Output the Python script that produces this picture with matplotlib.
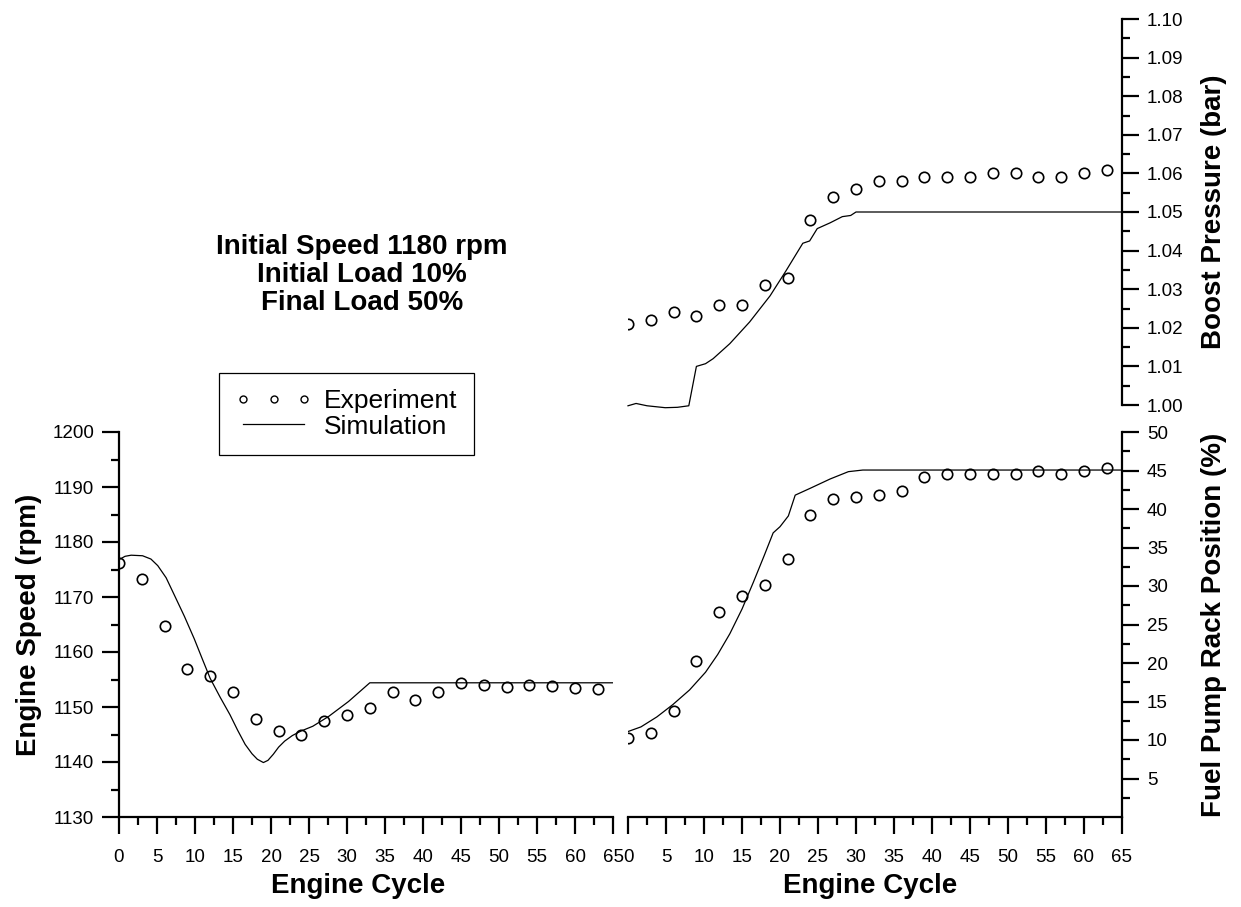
import matplotlib
matplotlib.use("Agg")
import matplotlib.pyplot as plt
from matplotlib.ticker import MultipleLocator, FormatStrFormatter, FixedLocator
from matplotlib.lines import Line2D

plt.rcParams['font.family'] = ['Liberation Sans', 'DejaVu Sans']

# Measured points (every 3 engine cycles)
cycle_exp = [0, 3, 6, 9, 12, 15, 18, 21, 24, 27, 30, 33, 36, 39, 42, 45, 48, 51, 54, 57, 60, 63]
speed_exp = [1176.1, 1173.3, 1164.8, 1157.0, 1155.7, 1152.7, 1147.9, 1145.6, 1144.9, 1147.5,
             1148.6, 1149.9, 1152.7, 1151.3, 1152.7, 1154.3, 1154.0, 1153.7, 1154.0, 1153.9,
             1153.4, 1153.3]
rack_exp = [10.3, 10.9, 13.8, 20.2, 26.6, 28.7, 30.1, 33.5, 39.2, 41.3, 41.5, 41.8, 42.3,
            44.1, 44.6, 44.6, 44.5, 44.5, 44.9, 44.5, 45.0, 45.3]
boost_exp = [1.021, 1.022, 1.024, 1.023, 1.026, 1.026, 1.031, 1.033, 1.048, 1.054, 1.056,
             1.058, 1.058, 1.059, 1.059, 1.059, 1.060, 1.060, 1.059, 1.059, 1.060, 1.061]

# Simulated traces
cycle_sim_speed = [0, 0.8, 1.6, 3.1, 4.2, 5.1, 6.2, 7.3, 8.6, 9.9, 11.0, 12.0, 13.3, 14.6,
                   15.6, 16.6, 17.5, 18.2, 19.0, 19.6, 20.3, 21.0, 21.8, 22.8, 23.9, 25.5,
                   27.6, 30.2, 33.0, 65]
speed_sim = [1176.8, 1177.4, 1177.6, 1177.5, 1176.9, 1175.7, 1173.5, 1170.3, 1166.5, 1162.4,
             1158.6, 1155.2, 1151.8, 1148.6, 1145.8, 1143.2, 1141.5, 1140.5, 1139.9, 1140.3,
             1141.4, 1142.7, 1143.8, 1144.8, 1145.6, 1146.5, 1148.3, 1151.0, 1154.4, 1154.4]

cycle_sim_rack = [0, 1.7, 3.8, 5.9, 8.1, 10.2, 11.8, 13.4, 15.0, 16.5, 17.9, 19.1, 20.0, 21.1,
                  22.0, 24.0, 26.6, 29.0, 30.9, 65]
rack_sim = [11.1, 11.7, 13.0, 14.6, 16.5, 18.8, 21.1, 23.8, 27.0, 30.5, 33.9, 36.9, 37.7, 39.1,
            41.8, 42.7, 43.9, 44.85, 45.06, 45.06]

cycle_sim_boost = [0, 1.06, 2.5, 4.9, 6.5, 8.0, 9.0, 10.2, 11.2, 13.4, 16.0, 18.7, 20.8, 23.0,
                   23.9, 24.9, 26.6, 28.2, 29.3, 30.0, 65]
boost_sim = [0.9998, 1.0004, 0.9998, 0.9993, 0.9994, 0.9998, 1.0100, 1.0107, 1.0120, 1.0159,
             1.0215, 1.0283, 1.0348, 1.0419, 1.0425, 1.0457, 1.0472, 1.0488, 1.0491, 1.0500,
             1.0500]

W, H = 1241, 907
fig = plt.figure(figsize=(W / 100, H / 100), dpi=100)


def box(x0, y0, x1, y1):
    return [x0 / W, 1 - y1 / H, (x1 - x0) / W, (y1 - y0) / H]


ax_speed = fig.add_axes(box(119, 432, 613, 817))
ax_rack = fig.add_axes(box(628, 432, 1122, 817))
ax_boost = fig.add_axes(box(628, 19, 1122, 405))

mk = dict(ls='none', marker='o', ms=7.5, mfc='none', mec='black', mew=1.2)
ln = dict(color='black', lw=0.9)
lab = dict(fontsize=20, fontweight='bold')

for ax in (ax_speed, ax_rack, ax_boost):
    ax.set_xlim(0, 65)
    for s in ax.spines.values():
        s.set_linewidth(1.6)
    ax.tick_params(which='major', length=12, width=1.6, direction='out', labelsize=13.5)
    ax.tick_params(which='minor', length=6, width=1.6, direction='out')
    ax.tick_params(axis='x', which='major', pad=11)
    ax.tick_params(axis='y', which='major', pad=6)
    ax.xaxis.set_major_locator(MultipleLocator(5))
    ax.xaxis.set_minor_locator(MultipleLocator(2.5))

# Engine speed
ax_speed.plot(cycle_sim_speed, speed_sim, **ln)
ax_speed.plot(cycle_exp, speed_exp, **mk)
ax_speed.set_ylim(1130, 1200)
ax_speed.yaxis.set_major_locator(MultipleLocator(10))
ax_speed.yaxis.set_minor_locator(MultipleLocator(5))
ax_speed.spines['top'].set_visible(False)
ax_speed.spines['right'].set_visible(False)
ax_speed.set_xlabel('Engine Cycle', **lab)
ax_speed.set_ylabel('Engine Speed (rpm)', **lab)
ax_speed.xaxis.set_label_coords(0.485, -0.145)
ax_speed.yaxis.set_label_coords(-0.155, 0.5)

# Fuel pump rack
ax_rack.plot(cycle_sim_rack, rack_sim, **ln)
ax_rack.plot(cycle_exp, rack_exp, **mk)
ax_rack.set_ylim(0, 50)
ax_rack.yaxis.set_major_locator(FixedLocator(list(range(5, 51, 5))))
ax_rack.yaxis.set_minor_locator(FixedLocator([2.5 + 5 * i for i in range(10)]))
ax_rack.spines['top'].set_visible(False)
ax_rack.spines['left'].set_visible(False)
ax_rack.yaxis.tick_right()
ax_rack.yaxis.set_label_position('right')
ax_rack.set_xlabel('Engine Cycle', **lab)
ax_rack.set_ylabel('Fuel Pump Rack Position (%)', **lab)
ax_rack.xaxis.set_label_coords(0.49, -0.145)
ax_rack.yaxis.set_label_coords(1.16, 0.5)

# Boost pressure
ax_boost.plot(cycle_sim_boost, boost_sim, clip_on=False, **ln)
ax_boost.plot(cycle_exp, boost_exp, **mk)
ax_boost.set_ylim(1.00, 1.10)
ax_boost.yaxis.set_major_locator(MultipleLocator(0.01))
ax_boost.yaxis.set_minor_locator(MultipleLocator(0.005))
ax_boost.yaxis.set_major_formatter(FormatStrFormatter('%.2f'))
for side in ('top', 'left', 'bottom'):
    ax_boost.spines[side].set_visible(False)
ax_boost.xaxis.set_visible(False)
ax_boost.yaxis.tick_right()
ax_boost.yaxis.set_label_position('right')
ax_boost.set_ylabel('Boost Pressure (bar)', **lab)
ax_boost.yaxis.set_label_coords(1.16, 0.5)

fig.text(362 / W, 1 - 275 / H, 'Initial Speed 1180 rpm\nInitial Load 10%\nFinal Load 50%',
         ha='center', va='center', fontsize=20, fontweight='bold', linespacing=1.12)

handles = [Line2D([], [], ls='none', marker='o', ms=5, mfc='none', mec='black', mew=1.0),
           Line2D([], [], color='black', lw=0.9)]
leg = fig.legend(handles, ['Experiment', 'Simulation'], loc='upper left',
                 bbox_to_anchor=(219 / W, 1 - 373 / H), numpoints=3, fontsize=19,
                 frameon=True, fancybox=False, edgecolor='black', framealpha=1,
                 handlelength=2.9, handletextpad=0.45, borderpad=0.62, labelspacing=0.05,
                 borderaxespad=0)
leg.get_frame().set_linewidth(0.9)

fig.savefig('out.png', dpi=100)
